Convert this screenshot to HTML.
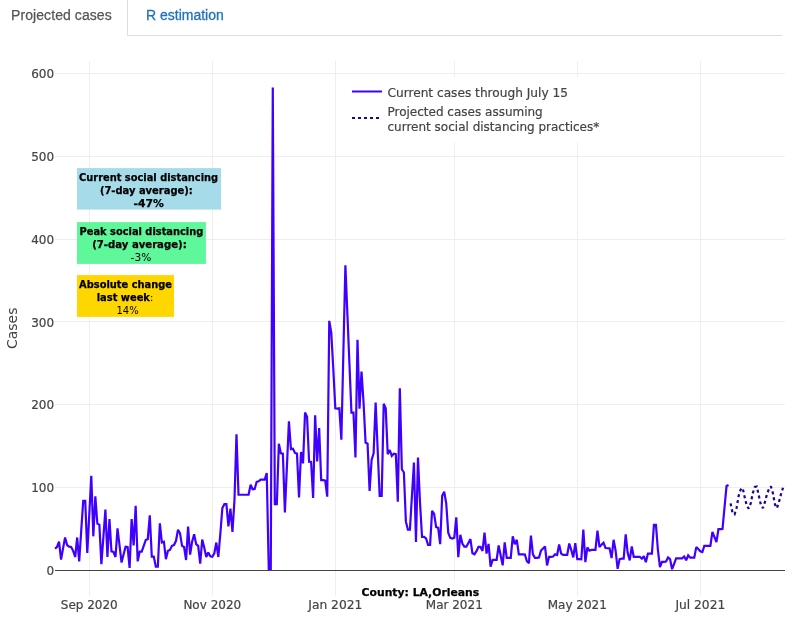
<!DOCTYPE html>
<html><head><meta charset="utf-8"><title>Projected cases</title>
<style>
html,body{margin:0;padding:0;background:#fff;}
body{width:792px;height:630px;overflow:hidden;position:relative;font-family:"Liberation Sans",Arial,sans-serif;font-size:14px;line-height:20px;color:#333;}
ul.tabs{position:absolute;left:-5px;top:-6px;width:787px;margin:0;padding:0;list-style:none;border-bottom:1px solid #ddd;height:41px;}
ul.tabs li{float:left;margin-bottom:-1px;}
ul.tabs li a{display:block;margin-right:2px;padding:10px 15px;border:1px solid transparent;border-radius:4px 4px 0 0;color:#2273b8;text-decoration:none;line-height:20px;}
ul.tabs li.active a{color:#555;background:#fff;border:1px solid #ddd;border-bottom-color:transparent;width:101px;letter-spacing:0.08px;-webkit-text-stroke:0.25px #555;}
ul.tabs li a{-webkit-text-stroke:0.3px #2273b8;}
svg{position:absolute;left:0;top:0;}
svg text{font-family:"DejaVu Sans","Liberation Sans",sans-serif;}
.tick{font-size:12px;fill:#444;stroke:#444;stroke-width:0.2px;}
.ann{font-size:10px;fill:#000;text-anchor:middle;}
.b{font-weight:bold;stroke:#000;stroke-width:0.25px;}
</style></head><body>
<ul class="tabs"><li class="active"><a>Projected cases</a></li><li><a>R estimation</a></li></ul>
<svg width="792" height="630" viewBox="0 0 792 630">
<path d="M89.28,61.0V595.6" stroke="#eee" stroke-width="1" shape-rendering="crispEdges"/>
<path d="M212.29,61.0V595.6" stroke="#eee" stroke-width="1" shape-rendering="crispEdges"/>
<path d="M335.31,61.0V595.6" stroke="#eee" stroke-width="1" shape-rendering="crispEdges"/>
<path d="M454.29,61.0V595.6" stroke="#eee" stroke-width="1" shape-rendering="crispEdges"/>
<path d="M577.30,61.0V595.6" stroke="#eee" stroke-width="1" shape-rendering="crispEdges"/>
<path d="M700.31,61.0V595.6" stroke="#eee" stroke-width="1" shape-rendering="crispEdges"/>
<path d="M55,487.61H785" stroke="#eee" stroke-width="1" shape-rendering="crispEdges"/>
<path d="M55,404.77H785" stroke="#eee" stroke-width="1" shape-rendering="crispEdges"/>
<path d="M55,321.93H785" stroke="#eee" stroke-width="1" shape-rendering="crispEdges"/>
<path d="M55,239.09H785" stroke="#eee" stroke-width="1" shape-rendering="crispEdges"/>
<path d="M55,156.25H785" stroke="#eee" stroke-width="1" shape-rendering="crispEdges"/>
<path d="M55,73.41H785" stroke="#eee" stroke-width="1" shape-rendering="crispEdges"/>
<path d="M55,570.45H785" stroke="#444" stroke-width="1" shape-rendering="crispEdges"/>
<path d="M55.00,548.66L57.02,547.01L59.03,541.70L61.05,559.68L63.07,548.33L65.08,537.48L67.10,545.02L69.12,546.67L71.13,547.01L73.15,550.82L75.17,557.03L77.18,537.48L79.20,561.34L81.22,530.69L83.23,500.86L85.25,500.86L87.27,553.05L89.28,514.37L91.30,475.85L93.32,536.32L95.33,496.31L97.35,523.65L99.37,524.64L101.38,564.15L103.40,536.82L105.41,509.65L107.43,557.03L109.45,519.17L111.46,551.40L113.48,551.98L115.50,557.03L117.51,528.37L119.53,545.35L121.55,562.50L123.56,554.46L125.58,546.67L127.60,547.01L129.61,567.96L131.63,519.17L133.65,545.35L135.66,505.83L137.68,561.34L139.70,551.65L141.71,551.65L143.73,545.85L145.75,539.96L147.76,539.14L149.78,515.36L151.80,556.70L153.81,556.70L155.83,566.64L157.85,566.64L159.86,523.31L161.88,542.53L163.90,541.70L165.91,559.18L167.93,550.82L169.95,549.99L171.96,545.85L173.98,545.02L176.00,540.79L178.01,529.69L180.03,533.34L182.05,545.85L184.06,547.01L186.08,560.01L188.10,526.63L190.11,554.63L192.13,541.70L194.15,534.17L196.16,544.19L198.18,545.85L200.20,563.66L202.21,539.63L204.23,547.50L206.25,557.03L208.26,552.47L210.28,556.37L212.29,556.70L214.31,553.30L216.33,542.53L218.34,557.03L220.36,533.34L222.38,507.99L224.39,504.18L226.41,504.18L228.43,526.30L230.44,508.65L232.46,532.01L234.48,500.04L236.49,434.18L238.51,494.73L240.53,494.73L242.54,494.73L244.56,494.73L246.58,494.73L248.59,494.73L250.61,484.71L252.63,489.27L254.64,488.94L256.66,481.81L258.68,481.31L260.69,479.66L262.71,479.66L264.73,479.66L266.74,473.03L268.76,568.79L270.78,568.79L272.79,87.49L274.81,504.18L276.83,504.18L278.84,443.70L280.86,453.23L282.88,453.65L284.89,512.46L286.91,466.90L288.93,421.34L290.94,449.17L292.96,448.68L294.98,452.98L296.99,453.65L299.01,497.55L301.03,451.99L303.04,463.34L305.06,412.47L307.07,416.70L309.09,461.68L311.11,461.93L313.12,497.97L315.14,415.37L317.16,461.35L319.17,427.97L321.19,480.15L323.21,480.15L325.22,480.57L327.24,496.72L329.26,320.85L331.27,332.70L333.29,368.73L335.31,408.33L337.32,408.66L339.34,408.33L341.36,439.73L343.37,352.58L345.39,265.35L347.41,314.47L349.42,363.35L351.44,412.56L353.46,412.56L355.47,457.54L357.49,339.66L359.51,408.75L361.52,371.63L363.54,402.28L365.56,442.55L367.57,443.70L369.59,490.92L371.61,460.02L373.62,453.31L375.64,402.53L377.66,449.50L379.67,495.89L381.69,495.89L383.71,403.69L385.72,408.33L387.74,454.23L389.76,450.00L391.77,455.80L393.79,453.65L395.81,454.06L397.82,501.69L399.84,388.37L401.86,469.22L403.87,472.53L405.89,521.66L407.90,529.69L409.92,529.69L411.94,495.89L413.95,462.51L415.97,542.04L417.99,457.54L420.00,502.52L422.02,536.82L424.04,536.82L426.05,538.47L428.07,544.85L430.09,544.85L432.10,510.81L434.12,513.87L436.14,527.12L438.15,527.79L440.17,544.19L442.19,495.89L444.20,491.75L446.22,503.35L448.24,532.67L450.25,537.89L452.27,538.47L454.29,537.65L456.30,517.43L458.32,557.20L460.34,534.75L462.35,543.53L464.37,546.67L466.39,546.67L468.40,542.95L470.42,539.14L472.44,553.30L474.45,554.30L476.47,551.15L478.49,546.92L480.50,546.92L482.52,550.98L484.54,532.59L486.55,553.63L488.57,543.94L490.59,566.72L492.60,559.93L494.62,559.93L496.64,559.93L498.65,545.43L500.67,555.54L502.69,565.40L504.70,542.28L506.72,557.86L508.74,557.86L510.75,557.86L512.77,536.32L514.78,544.19L516.80,539.80L518.82,554.30L520.83,554.30L522.85,554.30L524.87,554.54L526.88,561.25L528.90,563.16L530.92,535.66L532.93,554.30L534.95,557.86L536.97,557.86L538.98,557.44L541.00,550.57L543.02,548.58L545.03,546.43L547.05,565.40L549.07,556.78L551.08,556.78L553.10,556.53L555.12,554.30L557.13,554.96L559.15,544.44L561.17,553.63L563.18,554.96L565.20,554.96L567.22,554.96L569.23,543.53L571.25,549.91L573.27,557.44L575.28,543.20L577.30,559.10L579.32,559.10L581.33,559.35L583.35,529.69L585.37,562.17L587.38,547.34L589.40,550.73L591.42,549.91L593.43,549.91L595.45,549.91L597.47,530.52L599.48,547.01L601.50,544.85L603.52,542.70L605.53,548.00L607.55,548.25L609.56,548.25L611.58,558.11L613.60,539.80L615.61,550.57L617.63,568.79L619.65,559.10L621.66,558.69L623.68,558.69L625.70,534.33L627.71,553.05L629.73,560.34L631.75,546.43L633.76,556.78L635.78,556.78L637.80,556.78L639.81,556.78L641.83,558.69L643.85,556.20L645.86,562.17L647.88,553.63L649.90,553.63L651.91,553.63L653.93,524.97L655.95,524.97L657.96,550.57L659.98,567.14L662.00,561.83L664.01,561.83L666.03,561.59L668.05,557.44L670.06,559.10L672.08,569.21L674.10,563.82L676.11,558.36L678.13,558.36L680.15,558.36L682.16,558.36L684.18,556.53L686.20,560.26L688.21,555.29L690.23,557.61L692.25,557.69L694.26,557.69L696.28,547.09L698.30,548.91L700.31,551.23L702.33,551.98L704.35,545.93L706.36,545.93L708.38,545.93L710.39,545.93L712.41,531.85L714.43,536.98L716.44,542.12L718.46,529.20L720.48,529.20L722.49,529.03L724.51,507.49L726.53,486.04L728.54,484.96" fill="none" stroke="#4000ff" stroke-width="2.2" stroke-linejoin="miter" stroke-miterlimit="2"/>
<path d="M730.56,503.35L732.58,513.04L734.59,514.37L736.61,507.74L738.63,495.81L740.64,489.60L742.66,487.94L744.68,497.14L746.69,505.50L748.71,508.57L750.73,503.35L752.74,493.33L754.76,486.95L756.78,486.53L758.79,495.56L760.81,504.59L762.83,508.15L764.84,502.44L766.86,494.65L768.88,489.18L770.89,486.37L772.91,493.16L774.93,504.34L776.94,508.15L778.96,501.94L780.98,494.24L782.99,487.78" fill="none" stroke="#1f0099" stroke-width="2.2" stroke-dasharray="3,3" stroke-linejoin="miter" stroke-miterlimit="2"/>
<text class="tick" x="89.28" y="608.5" text-anchor="middle">Sep 2020</text>
<text class="tick" x="212.29" y="608.5" text-anchor="middle">Nov 2020</text>
<text class="tick" x="335.31" y="608.5" text-anchor="middle" textLength="53.9" lengthAdjust="spacingAndGlyphs">Jan 2021</text>
<text class="tick" x="454.29" y="608.5" text-anchor="middle">Mar 2021</text>
<text class="tick" x="577.30" y="608.5" text-anchor="middle">May 2021</text>
<text class="tick" x="700.31" y="608.5" text-anchor="middle" textLength="49.8" lengthAdjust="spacingAndGlyphs">Jul 2021</text>
<text class="tick" x="54.1" y="575" text-anchor="end">0</text>
<text class="tick" x="54.1" y="492" text-anchor="end">100</text>
<text class="tick" x="54.1" y="409" text-anchor="end">200</text>
<text class="tick" x="54.1" y="327" text-anchor="end">300</text>
<text class="tick" x="54.1" y="244" text-anchor="end">400</text>
<text class="tick" x="54.1" y="161" text-anchor="end">500</text>
<text class="tick" x="54.1" y="78" text-anchor="end">600</text>
<text transform="translate(17.2,328.3) rotate(-90)" text-anchor="middle" style="font-size:14px;fill:#444">Cases</text>
<rect x="347" y="77" width="258" height="65.5" fill="#fff"/>
<path d="M352,91.5H382" stroke="#4000ff" stroke-width="2"/>
<text class="tick" x="387.5" y="96.9" textLength="180.4" lengthAdjust="spacingAndGlyphs">Current cases through July 15</text>
<path d="M352,118H382" stroke="#1f0099" stroke-width="2" stroke-dasharray="3,3"/>
<text class="tick" x="387.5" y="116">Projected cases assuming</text>
<text class="tick" x="387.5" y="131">current social distancing practices*</text>
<rect x="77" y="168.1" width="144.1" height="41.5" fill="#a6dcea"/>
<text class="ann b" style="text-anchor:start" x="79.1" y="180.9" textLength="139.0" lengthAdjust="spacingAndGlyphs">Current social distancing</text>
<text class="ann b" style="text-anchor:start" x="99.9" y="193.9" textLength="92.9" lengthAdjust="spacingAndGlyphs">(7-day average):</text>
<text class="ann b" style="text-anchor:start" x="133.6" y="207.0" textLength="30.3" lengthAdjust="spacingAndGlyphs">-47%</text>
<rect x="77" y="222.1" width="128.9" height="41.8" fill="#5ef79a"/>
<text class="ann b" style="text-anchor:start" x="79.5" y="234.9" textLength="123.8" lengthAdjust="spacingAndGlyphs">Peak social distancing</text>
<text class="ann b" style="text-anchor:start" x="92.2" y="247.9" textLength="94.5" lengthAdjust="spacingAndGlyphs">(7-day average):</text>
<text class="ann" style="text-anchor:start" x="130.6" y="261.0" textLength="20.8" lengthAdjust="spacingAndGlyphs">-3%</text>
<rect x="77" y="275.1" width="97" height="41.8" fill="#ffd700"/>
<text class="ann b" style="text-anchor:start" x="79.1" y="288.1" textLength="92.9" lengthAdjust="spacingAndGlyphs">Absolute change</text>
<text class="ann" style="text-anchor:start" x="96.7" y="301.0" textLength="56.6" lengthAdjust="spacingAndGlyphs"><tspan class="b">last week</tspan>:</text>
<text class="ann" style="text-anchor:start" x="116.5" y="314.1" textLength="22.2" lengthAdjust="spacingAndGlyphs">14%</text>
<rect x="358" y="581" width="125" height="17" fill="#fff"/>
<text class="ann b" x="420.4" y="595.8" style="font-size:11px" textLength="117.6" lengthAdjust="spacingAndGlyphs">County: LA,Orleans</text>
</svg></body></html>
